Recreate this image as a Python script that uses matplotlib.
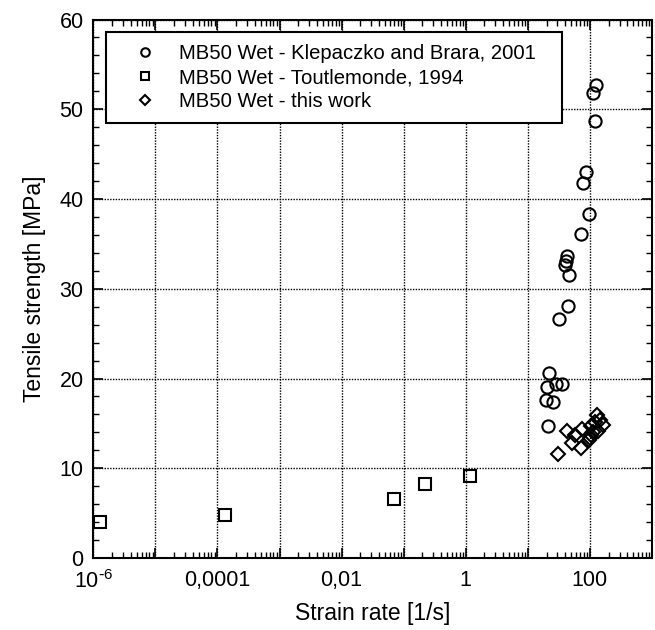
import matplotlib
matplotlib.use("Agg")
import matplotlib.pyplot as plt
from matplotlib.ticker import FixedLocator, LogLocator, MultipleLocator, NullFormatter
import numpy as np

plt.rcParams['font.family'] = ['Liberation Sans', 'DejaVu Sans']
plt.rcParams['mathtext.default'] = 'regular'

# Klepaczko and Brara, 2001
klep_rate = [125, 113, 123, 85, 76, 95, 72, 43, 41, 40, 46, 45, 32, 22, 28, 36, 20.7, 19.6, 25, 21]
klep_str = [52.75, 51.86, 48.70, 42.96, 41.76, 38.28, 36.09, 33.64, 33.08, 32.67, 31.52, 28.07,
            26.63, 20.62, 19.44, 19.44, 19.04, 17.55, 17.37, 14.7]

# Toutlemonde, 1994
tout_rate = [1.28e-6, 1.3e-4, 0.069, 0.22, 1.15]
tout_str = [4.03, 4.74, 6.57, 8.28, 9.10]

# this work
this_rate = [31, 43, 50.6, 58.6, 72, 75, 100, 106, 120, 128, 145, 164, 113, 136, 104, 95]
this_str = [11.6, 14.2, 12.8, 13.65, 12.3, 14.4, 13.35, 14.7, 15.2, 15.96, 15.4, 14.8, 14.0, 14.2, 13.7, 13.2]

labels = ["MB50 Wet - Klepaczko and Brara, 2001",
          "MB50 Wet - Toutlemonde, 1994",
          "MB50 Wet - this work"]

xtick_vals = [1e-6, 1e-4, 1e-2, 1, 100]
xtick_labels = [r"$10^{\text{-}6}$", "0,0001", "0,01", "1", "100"]

fig = plt.figure(figsize=(6.55, 6.30), dpi=100)
ax = fig.add_axes([0.1424, 0.1143, 0.8530, 0.8547])

mk = dict(linestyle='none', markerfacecolor='none', markeredgecolor='black', markeredgewidth=1.5)
ax.plot(klep_rate, klep_str, marker='o', markersize=8.8, label=labels[0], **mk)
ax.plot(tout_rate, tout_str, marker='s', markersize=8, label=labels[1], **mk)
ax.plot(this_rate, this_str, marker='D', markersize=7, label=labels[2], **mk)

ax.set_xscale('log')
ax.set_xlim(1e-6, 1e3)
ax.set_ylim(0, 60)

major_x = [10.0 ** k for k in range(-6, 4)]
ax.xaxis.set_major_locator(FixedLocator(major_x))
ax.xaxis.set_minor_locator(LogLocator(base=10, subs=np.arange(2, 10), numticks=100))
ax.xaxis.set_minor_formatter(NullFormatter())
ax.set_xticks(major_x)
lab_map = dict(zip(xtick_vals, xtick_labels))
ax.set_xticklabels([lab_map.get(v, "") for v in major_x])

ax.yaxis.set_major_locator(MultipleLocator(10))
ax.yaxis.set_minor_locator(MultipleLocator(2))

ax.tick_params(which='both', direction='in', top=True, right=True, labelsize=15.5, colors='black')
ax.tick_params(axis='x', which='major', pad=9)
ax.tick_params(axis='y', which='major', pad=7)
ax.tick_params(which='major', length=7, width=1.2)
ax.tick_params(which='minor', length=4, width=1.0)

ax.grid(True, which='major', linestyle=(0, (1, 1)), color='black', linewidth=1.0)
for s in ax.spines.values():
    s.set_linewidth(1.5)

ax.set_xlabel("Strain rate [1/s]", fontsize=16.5, labelpad=6)
ax.set_ylabel("Tensile strength [MPa]", fontsize=16.5, labelpad=10)

leg = ax.legend(loc='upper left', bbox_to_anchor=(0.0227, 0.8152, 0.816, 0.1616), mode='expand',
                fontsize=14.6, markerscale=0.7,
                frameon=True, fancybox=False, edgecolor='black', framealpha=1,
                borderpad=0.6, handletextpad=0.3, labelspacing=0.25, borderaxespad=0,
                handlelength=2.7)
leg.get_frame().set_linewidth(1.5)

fig.savefig("out.png", dpi=100)
